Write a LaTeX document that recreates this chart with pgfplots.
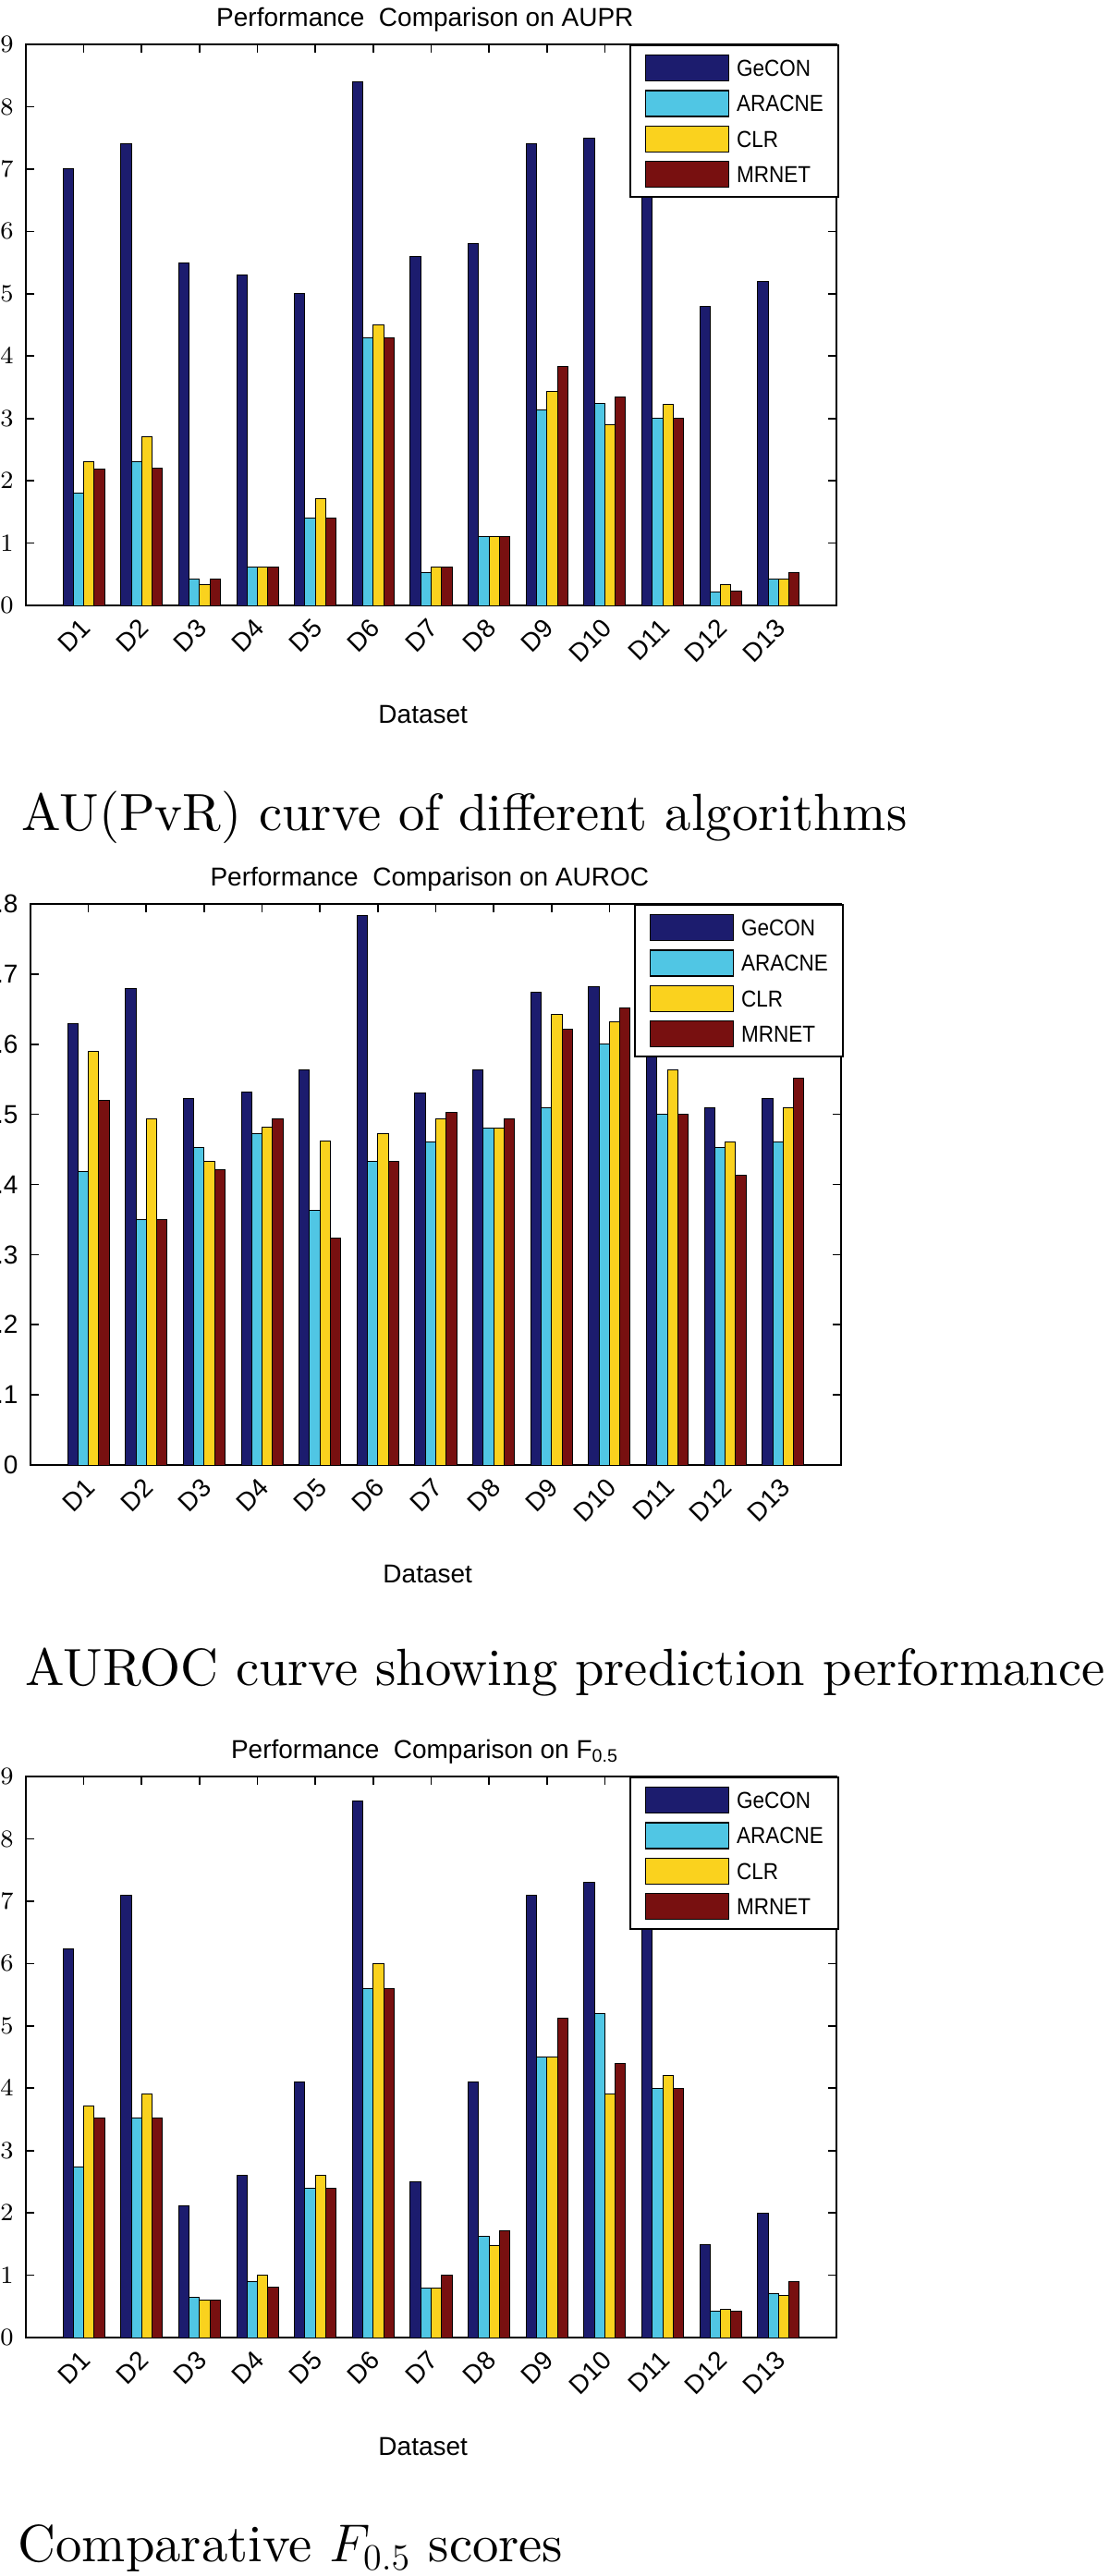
\documentclass[border=0pt]{standalone}
\usepackage{fontspec}
\usepackage{pgfplots}
\pgfplotsset{compat=1.18}
\newfontfamily\arial{Liberation Sans}
\newfontfamily\arialn[FakeStretch=0.9]{Liberation Sans}
\newfontfamily\capfont{lmroman10-regular.otf}
\definecolor{cG}{RGB}{28,28,110}
\definecolor{cA}{RGB}{80,198,228}
\definecolor{cC}{RGB}{250,210,30}
\definecolor{cM}{RGB}{120,16,16}
\pgfplotsset{
  mychart/.style={
    scale only axis, width=263.1pt, height=182.1pt,
    anchor=north west,
    ybar, bar width=0.18,
    legend image code/.code={\draw[##1,draw=black,line width=0.4pt] (0pt,-4.2pt) rectangle (27pt,4.2pt);},
    xmin=0, xmax=14, ymin=0,
    enlargelimits=false,
    xtick={1,...,13},
    xticklabels={D1,D2,D3,D4,D5,D6,D7,D8,D9,D10,D11,D12,D13},
    xtick pos=both, ytick pos=both, xticklabel pos=left, yticklabel pos=left,
    tick align=inside, major tick length=2.7pt,
    tick style={black, line width=0.5pt},
    axis line style={line width=0.7pt},
    every axis/.append style={font=\arial\fontsize{8.4}{10}\selectfont},
    tick label style={font=\arial\fontsize{8.4}{10}\selectfont},
    xticklabel style={xshift=3.2pt, yshift=-3.5pt, rotate=45, anchor=east},
    yticklabel style={xshift=-0.5pt},
    title style={font=\arial\fontsize{8.4}{10}\selectfont, at={(0.5,1)}, anchor=base, xshift=-2pt},
    xlabel style={font=\arial\fontsize{8.4}{10}\selectfont, at={(0.49,0)}, anchor=center, yshift=-35.4pt},
    xlabel={Dataset},
    legend style={at={(1.003,1)}, anchor=north east, draw=black, line width=0.5pt, fill=white,
      font=\arialn\fontsize{7.5}{9}\selectfont, row sep=2.7pt, column sep=2.4pt,
      inner xsep=4.8pt, inner ysep=3pt,
      nodes={inner sep=0pt, text height=5.4pt, text depth=0pt, anchor=west}},
    legend cell align=left,
  },
  pG/.style={fill=cG, draw=black, line width=0.3pt, bar shift=-0.27},
  pA/.style={fill=cA, draw=black, line width=0.3pt, bar shift=-0.09},
  pC/.style={fill=cC, draw=black, line width=0.3pt, bar shift=0.09},
  pM/.style={fill=cM, draw=black, line width=0.3pt, bar shift=0.27},
}
\pgfplotstableread{
x G A C M
1 7.0 1.8 2.3 2.18
2 7.4 2.3 2.7 2.2
3 5.5 0.42 0.33 0.42
4 5.3 0.62 0.62 0.62
5 5.0 1.4 1.72 1.4
6 8.4 4.3 4.5 4.3
7 5.6 0.52 0.62 0.62
8 5.8 1.1 1.1 1.1
9 7.4 3.14 3.43 3.83
10 7.5 3.24 2.9 3.34
11 7.2 3.0 3.23 3.0
12 4.8 0.22 0.33 0.23
13 5.2 0.42 0.42 0.53
}\aupr
\pgfplotstableread{
x G A C M
1 0.63 0.418 0.59 0.52
2 0.68 0.35 0.493 0.35
3 0.523 0.453 0.433 0.421
4 0.532 0.473 0.482 0.493
5 0.563 0.363 0.462 0.323
6 0.784 0.433 0.473 0.433
7 0.53 0.46 0.493 0.503
8 0.563 0.48 0.48 0.493
9 0.674 0.51 0.642 0.621
10 0.682 0.60 0.632 0.652
11 0.62 0.50 0.563 0.50
12 0.51 0.453 0.46 0.413
13 0.523 0.46 0.51 0.552
}\auroc
\pgfplotstableread{
x G A C M
1 6.23 2.74 3.71 3.52
2 7.1 3.52 3.9 3.52
3 2.12 0.64 0.6 0.6
4 2.6 0.9 1.0 0.81
5 4.1 2.4 2.6 2.4
6 8.61 5.6 6.0 5.6
7 2.5 0.8 0.8 1.0
8 4.1 1.62 1.48 1.72
9 7.1 4.5 4.5 5.12
10 7.3 5.2 3.9 4.4
11 6.9 4.0 4.2 4.0
12 1.49 0.42 0.45 0.42
13 2.0 0.71 0.68 0.9
}\fscore
\begin{document}
\begin{tikzpicture}
\begin{axis}[mychart, at={(8.4pt,-14.4pt)}, ymax=9, ytick={0,...,9},
  title={Performance\ \ Comparison on AUPR}]
\addplot[pG] table[x=x,y=G]{\aupr};
\addplot[pA] table[x=x,y=A]{\aupr};
\addplot[pC] table[x=x,y=C]{\aupr};
\addplot[pM] table[x=x,y=M]{\aupr};
\legend{GeCON,ARACNE,CLR,MRNET}
\end{axis}
\begin{axis}[mychart, at={(9.9pt,-293.4pt)}, ymax=0.8, ytick={0,0.1,...,0.8},
  yticklabels={0,0.1,0.2,0.3,0.4,0.5,0.6,0.7,0.8},
  title={Performance\ \ Comparison on AUROC}]
\addplot[pG] table[x=x,y=G]{\auroc};
\addplot[pA] table[x=x,y=A]{\auroc};
\addplot[pC] table[x=x,y=C]{\auroc};
\addplot[pM] table[x=x,y=M]{\auroc};
\legend{GeCON,ARACNE,CLR,MRNET}
\end{axis}
\begin{axis}[mychart, at={(8.4pt,-576.6pt)}, ymax=9, ytick={0,...,9},
  title={Performance\ \ Comparison on F\textsubscript{0.5}}]
\addplot[pG] table[x=x,y=G]{\fscore};
\addplot[pA] table[x=x,y=A]{\fscore};
\addplot[pC] table[x=x,y=C]{\fscore};
\addplot[pM] table[x=x,y=M]{\fscore};
\legend{GeCON,ARACNE,CLR,MRNET}
\end{axis}
\node[anchor=west, inner sep=0pt, font=\capfont\fontsize{17}{20}\selectfont] at (6.9pt,-265.2pt) {AU(PvR) curve of different algorithms};
\node[anchor=west, inner sep=0pt, font=\capfont\fontsize{17}{20}\selectfont] at (8.1pt,-542.7pt) {AUROC curve showing prediction performance};
\node[anchor=west, inner sep=0pt, font=\capfont\fontsize{17}{20}\selectfont] at (5.7pt,-827.1pt) {Comparative $F_{0.5}$ scores};
\pgfresetboundingbox
\useasboundingbox (0pt,0pt) rectangle (360pt,-836.1pt);
\end{tikzpicture}
\end{document}
